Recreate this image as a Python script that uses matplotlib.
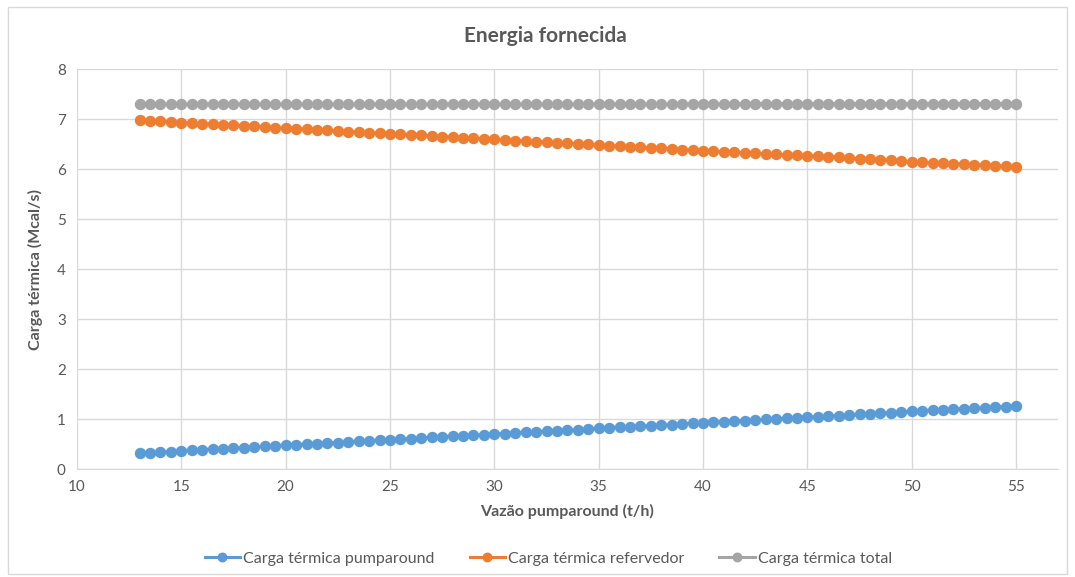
import matplotlib.pyplot as plt
from matplotlib.patches import Rectangle

plt.rcParams['font.family'] = ['Lato', 'DejaVu Sans']

# Vazão pumparound (t/h)
vazao = [13.0, 13.5, 14.0, 14.5, 15.0, 15.5, 16.0, 16.5,
         17.0, 17.5, 18.0, 18.5, 19.0, 19.5, 20.0, 20.5,
         21.0, 21.5, 22.0, 22.5, 23.0, 23.5, 24.0, 24.5,
         25.0, 25.5, 26.0, 26.5, 27.0, 27.5, 28.0, 28.5,
         29.0, 29.5, 30.0, 30.5, 31.0, 31.5, 32.0, 32.5,
         33.0, 33.5, 34.0, 34.5, 35.0, 35.5, 36.0, 36.5,
         37.0, 37.5, 38.0, 38.5, 39.0, 39.5, 40.0, 40.5,
         41.0, 41.5, 42.0, 42.5, 43.0, 43.5, 44.0, 44.5,
         45.0, 45.5, 46.0, 46.5, 47.0, 47.5, 48.0, 48.5,
         49.0, 49.5, 50.0, 50.5, 51.0, 51.5, 52.0, 52.5,
         53.0, 53.5, 54.0, 54.5, 55.0]

# Carga térmica (Mcal/s)
pumparound = [0.32, 0.33, 0.34, 0.35, 0.37, 0.38, 0.39, 0.40,
              0.41, 0.42, 0.43, 0.44, 0.46, 0.47, 0.48, 0.49,
              0.50, 0.51, 0.52, 0.53, 0.55, 0.56, 0.57, 0.58,
              0.59, 0.60, 0.61, 0.62, 0.64, 0.65, 0.66, 0.67,
              0.68, 0.69, 0.70, 0.71, 0.73, 0.74, 0.75, 0.76,
              0.77, 0.78, 0.79, 0.80, 0.82, 0.83, 0.84, 0.85,
              0.86, 0.87, 0.88, 0.89, 0.91, 0.92, 0.93, 0.94,
              0.95, 0.96, 0.97, 0.98, 1.00, 1.01, 1.02, 1.03,
              1.04, 1.05, 1.06, 1.07, 1.09, 1.10, 1.11, 1.12,
              1.13, 1.14, 1.16, 1.17, 1.18, 1.19, 1.20, 1.21,
              1.22, 1.23, 1.24, 1.25, 1.26]

refervedor = [6.98, 6.97, 6.96, 6.95, 6.93, 6.92, 6.91, 6.90,
              6.89, 6.88, 6.87, 6.86, 6.84, 6.83, 6.82, 6.81,
              6.80, 6.79, 6.78, 6.77, 6.75, 6.74, 6.73, 6.72,
              6.71, 6.70, 6.69, 6.68, 6.66, 6.65, 6.64, 6.63,
              6.62, 6.61, 6.60, 6.59, 6.57, 6.56, 6.55, 6.54,
              6.53, 6.52, 6.51, 6.50, 6.48, 6.47, 6.46, 6.45,
              6.44, 6.43, 6.42, 6.41, 6.39, 6.38, 6.37, 6.36,
              6.35, 6.34, 6.33, 6.32, 6.31, 6.30, 6.29, 6.28,
              6.27, 6.26, 6.25, 6.24, 6.22, 6.21, 6.20, 6.19,
              6.18, 6.17, 6.15, 6.14, 6.13, 6.12, 6.11, 6.10,
              6.09, 6.08, 6.07, 6.06, 6.05]

total = [7.30, 7.30, 7.30, 7.30, 7.30, 7.30, 7.30, 7.30,
         7.30, 7.30, 7.30, 7.30, 7.30, 7.30, 7.30, 7.30,
         7.30, 7.30, 7.30, 7.30, 7.30, 7.30, 7.30, 7.30,
         7.30, 7.30, 7.30, 7.30, 7.30, 7.30, 7.30, 7.30,
         7.30, 7.30, 7.30, 7.30, 7.30, 7.30, 7.30, 7.30,
         7.30, 7.30, 7.30, 7.30, 7.30, 7.30, 7.30, 7.30,
         7.30, 7.30, 7.30, 7.30, 7.30, 7.30, 7.30, 7.30,
         7.30, 7.30, 7.31, 7.31, 7.31, 7.31, 7.31, 7.31,
         7.31, 7.31, 7.31, 7.31, 7.31, 7.31, 7.31, 7.31,
         7.31, 7.31, 7.31, 7.31, 7.31, 7.31, 7.31, 7.31,
         7.31, 7.31, 7.31, 7.31, 7.31]

series = [
    ('Carga térmica pumparound', pumparound, '#5b9bd5'),
    ('Carga térmica refervedor', refervedor, '#ed7d31'),
    ('Carga térmica total', total, '#a5a5a5'),
]

text_color = '#595959'
grid_color = '#d9d9d9'

fig = plt.figure(figsize=(10.75, 5.77), dpi=100)
ax = fig.add_axes([0.0716, 0.187, 0.9124, 0.693])

for label, values, color in series:
    ax.plot(vazao, values, color=color, lw=2.2, marker='o', markersize=7.2,
            label=label, zorder=3)

ax.set_xlim(10, 57)
ax.set_ylim(0, 8)
ax.set_xticks(range(10, 56, 5))
ax.set_yticks(range(0, 9))
ax.grid(True, color=grid_color, lw=1)
ax.set_axisbelow(True)
for side in ['top', 'right', 'left']:
    ax.spines[side].set_visible(False)
ax.spines['bottom'].set_color(grid_color)
ax.tick_params(length=0, colors=text_color, labelsize=11, pad=8)

fig.text(0.507, 0.937, 'Energia fornecida', fontsize=15, fontweight='bold',
         color=text_color, ha='center', va='center')
ax.set_xlabel('Vazão pumparound (t/h)', fontsize=11.5, fontweight='bold',
              color=text_color, labelpad=7)
ax.set_ylabel('Carga térmica (Mcal/s)', fontsize=11.5, fontweight='bold',
              color=text_color, labelpad=10)

leg = fig.legend(loc='center', bbox_to_anchor=(0.51, 0.032), ncol=3,
                 frameon=False, fontsize=11.5, columnspacing=2.2,
                 handlelength=2.2, handletextpad=0.2, markerscale=0.85)
for t in leg.get_texts():
    t.set_color(text_color)

# outer chart border
fig.patches.append(Rectangle((0.007, 0.005), 0.986, 0.983, transform=fig.transFigure,
                             fill=False, edgecolor='#d9d9d9', lw=1))

fig.savefig('out.png', dpi=100)
